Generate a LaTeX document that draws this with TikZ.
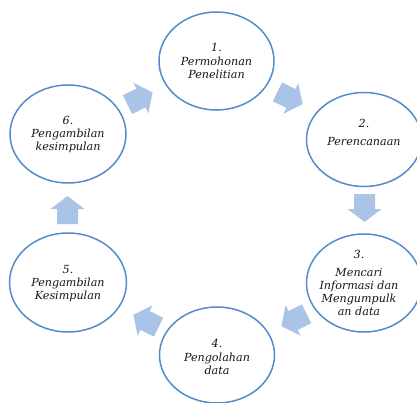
\documentclass[tikz,border=0pt]{standalone}
\usepackage{fontspec}
\setmainfont{DejaVu Serif}
\usetikzlibrary{shapes.geometric}
\definecolor{ringblue}{RGB}{84,139,201}
\definecolor{arrowblue}{RGB}{170,196,232}
\definecolor{txtgray}{RGB}{20,20,20}
\begin{document}
\begin{tikzpicture}[x=1bp,y=-1bp,
  stage/.style={draw=ringblue, line width=1.5bp, ellipse, inner sep=0pt},
  lbl/.style={align=center, text=txtgray, font=\itshape\fontsize{11.2}{13.2}\selectfont, inner sep=0pt},
  blockarrow/.pic={\fill[arrowblue] (-14,-10.5) -- (1,-10.5) -- (1,-17) -- (14,0) -- (1,17) -- (1,10.5) -- (-14,10.5) -- cycle;}]
\useasboundingbox (0,0) rectangle (417,403);
% stages
\node[stage, minimum width=115bp, minimum height=98bp] (e1) at (216.5,61) {};
\node[stage, minimum width=115bp, minimum height=94bp] (e2) at (364,139.5) {};
\node[stage, minimum width=115bp, minimum height=98bp] (e3) at (364,283) {};
\node[stage, minimum width=115bp, minimum height=96bp] (e4) at (217,355) {};
\node[stage, minimum width=117bp, minimum height=99bp] (e5) at (68,282.5) {};
\node[stage, minimum width=116bp, minimum height=98bp] (e6) at (68,134) {};
% labels
\node[lbl] (t1) at (e1) {1.\\Permohonan\\Penelitian};
\node[lbl] (t2) at (364,132.5) {2.\\[5bp]Perencanaan};
\node[lbl] (t3) at (359,283) {3.\\[5bp]Mencari\\Informasi dan\\Mengumpulk\\an data};
\node[lbl] (t4) at (217,357) {4.\\Pengolahan\\data};
\node[lbl] (t5) at (68,283.5) {5.\\Pengambilan\\Kesimpulan};
\node[lbl] (t6) at (68,134.5) {6.\\Pengambilan\\kesimpulan};
% arrows
\pic[rotate=26] at (140,98.5) {blockarrow};
\pic[rotate=-26] at (290,98) {blockarrow};
\pic[rotate=-90] at (364.5,208) {blockarrow};
\pic[rotate=206] at (294,320) {blockarrow};
\pic[rotate=154] at (146,321) {blockarrow};
\pic[rotate=90] at (67.5,210) {blockarrow};
\end{tikzpicture}
\end{document}
